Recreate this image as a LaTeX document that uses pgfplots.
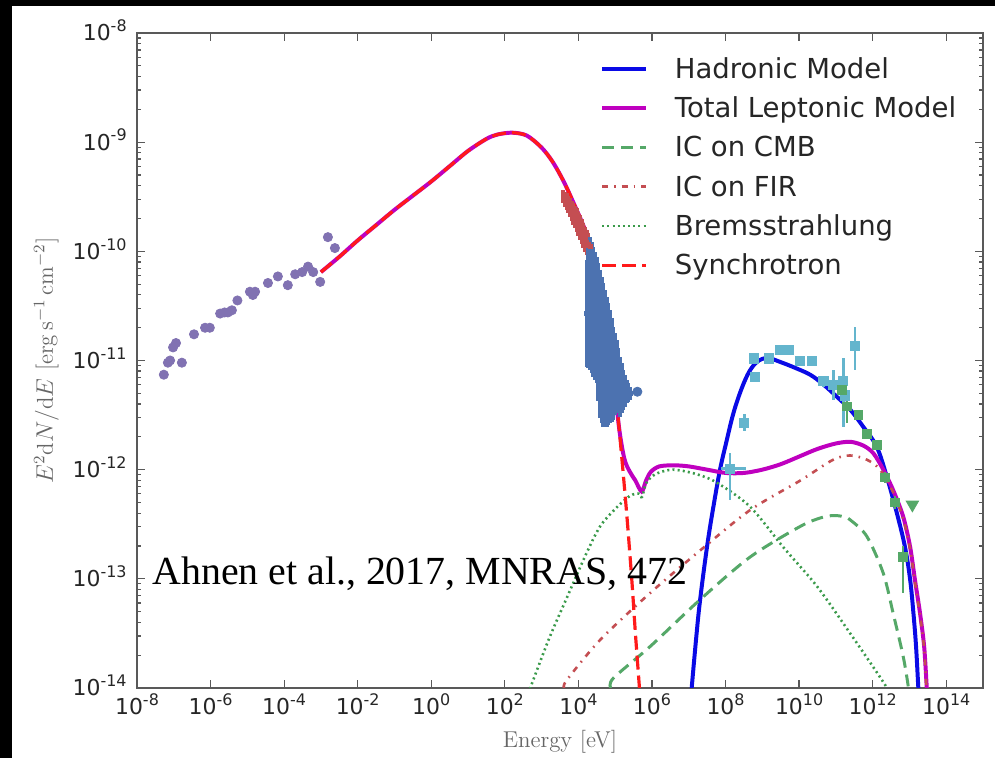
\documentclass[border=0pt]{standalone}
\usepackage{pgfplots}
\pgfplotsset{compat=1.18}
\usepackage{fontspec}
\newfontfamily\dejavu{DejaVu Sans}
\newfontfamily\tnr{Liberation Serif}
\definecolor{hadblue}{HTML}{0A0AE6}
\definecolor{lepmag}{HTML}{BF00BF}
\definecolor{sbgreen}{HTML}{55A868}
\definecolor{bremgreen}{HTML}{3A9A4A}
\definecolor{sbred}{HTML}{C44E52}
\definecolor{synred}{HTML}{FF1A1A}
\definecolor{sbblue}{HTML}{4C72B0}
\definecolor{sbpurple}{HTML}{8172B2}
\definecolor{sbcyan}{HTML}{64B5CD}
\newcommand\tl[1]{10\raisebox{4.6pt}{\fontsize{8}{9}\selectfont #1}}
\begin{document}
\begin{tikzpicture}
\useasboundingbox (-68.5bp,-35bp) rectangle (429bp,344bp);
\fill[white] (-68.5bp,-35bp) rectangle (429bp,344bp);
\begin{axis}[
  at={(0bp,0bp)}, anchor=south west,
  scale only axis, width=423bp, height=327.5bp,
  xmin=-8, xmax=15, ymin=-14, ymax=-8,
  axis line style={black!65, line width=0.6pt},
  tick align=inside, major tick length=4pt, minor tick length=2pt,
  every tick/.style={black!65, line width=0.6pt},
  xtick={-8,-6,-4,-2,0,2,4,6,8,10,12,14},
  xticklabels={\tl{-8},\tl{-6},\tl{-4},\tl{-2},\tl{0},\tl{2},\tl{4},\tl{6},\tl{8},\tl{10},\tl{12},\tl{14}},
  ytick={-14,-13,-12,-11,-10,-9,-8},
  yticklabels={\tl{-14},\tl{-13},\tl{-12},\tl{-11},\tl{-10},\tl{-9},\tl{-8}},
  minor xtick={},
  minor ytick={-13.69897,-13.52288,-13.39794,-13.30103,-13.22185,-13.15490,-13.09691,-13.04576,
               -12.69897,-12.52288,-12.39794,-12.30103,-12.22185,-12.15490,-12.09691,-12.04576,
               -11.69897,-11.52288,-11.39794,-11.30103,-11.22185,-11.15490,-11.09691,-11.04576,
               -10.69897,-10.52288,-10.39794,-10.30103,-10.22185,-10.15490,-10.09691,-10.04576,
               -9.69897,-9.52288,-9.39794,-9.30103,-9.22185,-9.15490,-9.09691,-9.04576,
               -8.69897,-8.52288,-8.39794,-8.30103,-8.22185,-8.15490,-8.09691,-8.04576},
  ticklabel style={font=\dejavu\fontsize{11}{13}\selectfont, text=black!85},
  xticklabel style={anchor=base, yshift=-13.5pt, inner sep=0pt},
  yticklabel style={anchor=base east, yshift=-4pt, xshift=-5pt, inner sep=0pt},
  xlabel={Energy [eV]},
  ylabel={$E^2\mathrm{d}N/\mathrm{d}E$ [$\mathrm{erg\,s^{-1}\,cm^{-2}}$]},
  label style={font=\fontsize{11.5}{13}\selectfont, text=black!60},
  xlabel style={at={(axis description cs:0.5,-0.0901)}, anchor=base},
  ylabel style={at={(axis description cs:-0.0993,0.5)}, anchor=base},
  legend style={draw=none, fill=none, at={(rel axis cs:0.5475,0.961)}, anchor=north west,
    inner sep=0pt, outer sep=0pt, row sep=6.7pt, column sep=13.5pt,
    font=\dejavu\fontsize{13.8}{15}\selectfont, text=black!85,
    nodes={inner sep=0pt, text height=10pt, text depth=3pt}},
  legend cell align=left,
  legend image code/.code={\draw[#1] (0pt,1.3pt) -- (22pt,1.3pt);},
]

% Hadronic model
\addplot[hadblue, line width=2pt, smooth, tension=0.6] coordinates {
(7.08,-14.0) (7.2,-13.55) (7.31,-13.19) (7.5,-12.70) (7.67,-12.34) (7.85,-12.0)
(8.02,-11.75) (8.2,-11.50) (8.39,-11.30) (8.6,-11.13) (8.8,-11.03) (9.0,-10.985)
(9.2,-10.98) (9.5,-11.015) (9.84,-11.06) (10.3,-11.13) (10.66,-11.22) (11.02,-11.33)
(11.39,-11.45) (11.75,-11.61) (12.11,-11.79) (12.38,-12.06) (12.66,-12.4) (12.88,-12.71)
(13.02,-13.01) (13.11,-13.32) (13.18,-13.62) (13.24,-13.99) (13.26,-14.1)
};
\addlegendentry{Hadronic Model}

% Total leptonic
\addplot[lepmag, line width=2pt, smooth] coordinates {
(-3,-10.19) (-2.5,-10.05) (-2,-9.90) (-1.5,-9.76) (-1,-9.62) (-0.5,-9.49) (0,-9.36)
(0.5,-9.22) (1,-9.08) (1.5,-8.97) (1.8,-8.93) (2.2,-8.913) (2.6,-8.94) (3.0,-9.05)
(3.3,-9.18) (3.6,-9.36) (3.9,-9.58) (4.2,-9.82) (4.5,-10.13) (4.7,-10.48) (4.9,-10.95)
(5.1,-11.6) (5.25,-11.9) (5.4,-12.02) (5.55,-12.1) (5.72,-12.2) (5.84,-12.1)
(5.97,-12.02) (6.2,-11.97) (6.6,-11.96) (7.0,-11.97) (7.5,-12.0) (8.0,-12.03)
(8.5,-12.03) (9.0,-12.0) (9.5,-11.95) (10.0,-11.88) (10.5,-11.81) (11.0,-11.76)
(11.4,-11.745) (11.75,-11.78) (12.02,-11.85) (12.29,-12.0) (12.56,-12.19)
(12.83,-12.43) (13.02,-12.71) (13.15,-13.01) (13.29,-13.32) (13.40,-13.62)
(13.47,-13.99) (13.49,-14.1)
};
\addlegendentry{Total Leptonic Model}

% IC on CMB
\addplot[sbgreen, line width=1.5pt, dash pattern=on 6pt off 3.5pt, smooth] coordinates {
(4.88,-14.0) (4.95,-13.91) (5.95,-13.62) (7.31,-13.19) (8.67,-12.80) (10.03,-12.52)
(10.6,-12.44) (10.93,-12.42) (11.2,-12.43) (11.39,-12.46) (11.84,-12.61)
(12.29,-12.95) (12.56,-13.32) (12.83,-13.71) (12.97,-13.99) (13.0,-14.1)
};
\addlegendentry{IC on CMB}

% IC on FIR
\addplot[sbred, line width=1.3pt, dash pattern=on 3pt off 3pt on 0.8pt off 3pt, smooth] coordinates {
(3.62,-14.0) (3.68,-13.93) (4.59,-13.56) (5.95,-13.13) (7.31,-12.74) (8.67,-12.37)
(10.03,-12.10) (10.92,-11.91) (11.39,-11.87) (11.85,-11.91) (12.2,-12.0)
(12.56,-12.21) (12.83,-12.45) (13.02,-12.73) (13.15,-13.03) (13.29,-13.34)
(13.40,-13.64) (13.46,-13.99) (13.48,-14.1)
};
\addlegendentry{IC on FIR}

% Bremsstrahlung
\addplot[bremgreen, line width=1.3pt, dash pattern=on 1pt off 1.6pt, smooth] coordinates {
(2.62,-14.05) (2.69,-14.0) (3.2,-13.55) (3.69,-13.17) (4.2,-12.78) (4.59,-12.52)
(5.0,-12.36) (5.4,-12.24) (5.65,-12.22) (5.73,-12.25) (5.85,-12.12) (6.1,-12.04)
(6.57,-12.0) (7.2,-12.04) (7.77,-12.12) (8.67,-12.34) (9.57,-12.71) (10.49,-13.07)
(11.39,-13.5) (12.12,-13.86) (12.39,-14.0) (12.45,-14.05)
};
\addlegendentry{Bremsstrahlung}

% Synchrotron
\addplot[synred, line width=1.6pt, dash pattern=on 7pt off 3pt, smooth] coordinates {
(-3,-10.19) (-2.5,-10.05) (-2,-9.90) (-1.5,-9.76) (-1,-9.62) (-0.5,-9.49) (0,-9.36)
(0.5,-9.22) (1,-9.08) (1.5,-8.97) (1.8,-8.93) (2.2,-8.913) (2.6,-8.94) (3.0,-9.05)
(3.3,-9.18) (3.6,-9.36) (3.9,-9.58) (4.2,-9.82) (4.5,-10.13) (4.7,-10.48) (4.9,-10.95)
(5.1,-11.6) (5.3,-12.35) (5.45,-13.0) (5.55,-13.5) (5.66,-14.0) (5.68,-14.1)
};
\addlegendentry{Synchrotron}

% Radio data
\addplot[forget plot, only marks, mark=*, mark size=2.3pt, sbpurple, mark options={draw=sbpurple, fill=sbpurple}] coordinates {
(-7.27,-11.13) (-7.16,-11.02) (-7.10,-11.00) (-7.02,-10.88) (-6.94,-10.84) (-6.78,-11.02)
(-6.45,-10.76) (-6.15,-10.70) (-6.02,-10.70) (-5.74,-10.57) (-5.62,-10.56) (-5.53,-10.56)
(-5.42,-10.54) (-5.27,-10.45) (-4.93,-10.37) (-4.85,-10.40) (-4.79,-10.37) (-4.44,-10.29)
(-4.17,-10.23) (-3.90,-10.31) (-3.70,-10.21) (-3.51,-10.19) (-3.35,-10.14) (-3.21,-10.19)
(-3.02,-10.28) (-2.81,-9.87) (-2.62,-9.97)
};

% Optical band
\addplot[forget plot, only marks, mark=square*, mark size=1pt, sbred,
  error bars/.cd, y dir=both, y explicit, error mark=none,
  error bar style={line width=2pt, sbred}] table[x=x, y=y, y error=e] {
x y e
3.592 -9.499 0.061
3.637 -9.522 0.068
3.682 -9.545 0.076
3.728 -9.571 0.080
3.773 -9.599 0.085
3.818 -9.629 0.092
3.863 -9.660 0.100
3.909 -9.686 0.103
3.954 -9.713 0.107
4.000 -9.747 0.111
4.045 -9.782 0.115
4.090 -9.820 0.115
4.135 -9.858 0.115
4.180 -9.888 0.115
4.226 -9.919 0.114
4.271 -9.938 0.103
4.317 -9.958 0.092
};

% X-ray band
\addplot[forget plot, only marks, mark=square*, mark size=1pt, sbblue,
  error bars/.cd, y dir=both, y explicit, error mark=none,
  error bar style={line width=2pt, sbblue}] table[x=x, y=y, y error=e] {
x y e
4.226 -10.569 0.489
4.271 -10.520 0.550
4.317 -10.477 0.611
4.362 -10.515 0.603
4.407 -10.553 0.596
4.452 -10.591 0.588
4.498 -10.629 0.580
4.543 -10.740 0.630
4.588 -10.851 0.680
4.633 -10.900 0.668
4.679 -10.950 0.657
4.724 -10.980 0.626
4.770 -11.011 0.596
4.815 -11.033 0.557
4.860 -11.056 0.519
4.905 -11.087 0.473
4.951 -11.118 0.428
4.996 -11.125 0.374
5.041 -11.133 0.321
5.087 -11.186 0.298
5.132 -11.240 0.275
5.177 -11.255 0.229
5.222 -11.270 0.183
5.268 -11.278 0.145
5.313 -11.285 0.107
5.358 -11.293 0.084
5.404 -11.301 0.061
};
\addplot[forget plot, only marks, mark=*, mark size=2.3pt, sbblue] coordinates {(5.603,-11.286)};

% Fermi-LAT
\addplot[forget plot, only marks, mark=square*, mark size=2.3pt, sbcyan,
  error bars/.cd, y dir=both, y explicit, x dir=both, x explicit, error mark=none,
  error bar style={line width=1.3pt, sbcyan}]
  table[x=x, y=y, y error plus=yp, y error minus=ym, x error plus=xp, x error minus=xm] {
x y yp ym xp xm
8.12 -11.99 0.14 0.29 0.45 0.25
8.51 -11.57 0.08 0.08 0.12 0.12
8.80 -11.15 0.04 0.04 0.05 0.05
8.76 -10.98 0.02 0.02 0.10 0.10
9.17 -10.98 0.02 0.02 0.05 0.05
9.48 -10.90 0.02 0.02 0.05 0.05
9.71 -10.90 0.02 0.02 0.05 0.05
10.03 -11.00 0.03 0.03 0.05 0.05
10.35 -11.00 0.03 0.03 0.05 0.05
10.66 -11.19 0.05 0.05 0.05 0.05
10.93 -11.22 0.13 0.14 0.05 0.05
11.20 -11.19 0.21 0.42 0.05 0.05
11.25 -11.32 0.05 0.05 0.05 0.05
11.52 -10.87 0.18 0.22 0.05 0.05
};

% MAGIC
\addplot[forget plot, only marks, mark=square*, mark size=2.2pt, sbgreen,
  error bars/.cd, y dir=both, y explicit, error mark=none,
  error bar style={line width=1.3pt, sbgreen}]
  table[x=x, y=y, y error plus=yp, y error minus=ym] {
x y yp ym
11.16 -11.27 0.05 0.05
11.30 -11.42 0.06 0.15
11.61 -11.50 0.04 0.04
11.84 -11.67 0.04 0.04
12.11 -11.77 0.04 0.04
12.34 -12.07 0.05 0.05
12.61 -12.30 0.06 0.06
12.83 -12.80 0.10 0.33
};
\addplot[forget plot, only marks, mark=triangle*, mark size=3.6pt, sbgreen, mark options={rotate=180}] coordinates {(13.08,-12.32)};

\node[anchor=base west, inner sep=0pt, font=\tnr\fontsize{20}{24}\selectfont] at (axis cs:-7.59,-13.056) {Ahnen et al., 2017, MNRAS, 472};
\end{axis}
\fill[black] (-68.5bp,-35bp) rectangle (-62.5bp,344bp);
\fill[black] (-68.5bp,341bp) rectangle (429bp,344bp);
\end{tikzpicture}
\end{document}
